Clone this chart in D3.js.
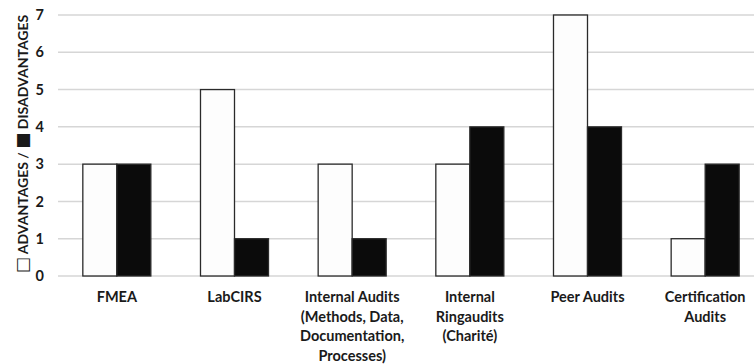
<!DOCTYPE html>
<html>
<head>
<meta charset="utf-8">
<script src="https://cdn.jsdelivr.net/npm/d3@7/dist/d3.min.js"></script>
<style>
  html, body { margin: 0; padding: 0; background: #ffffff; }
  svg { display: block; }
  text { font-family: Lato, "Open Sans", sans-serif; font-weight: 700; fill: #1a1a1a; }
</style>
</head>
<body>
<svg id="chart" width="754" height="364"></svg>
<script>
// Quality-assurance instruments and the number of advantages / disadvantages named for each
const categories = ["FMEA", "LabCIRS", "Internal Audits", "Internal Ringaudits", "Peer Audits", "Certification Audits"];
const categoryLines = [
  ["FMEA"],
  ["LabCIRS"],
  ["Internal Audits", "(Methods, Data,", "Documentation,", "Processes)"],
  ["Internal", "Ringaudits", "(Charité)"],
  ["Peer Audits"],
  ["Certification", "Audits"]
];
const advantages = [3, 5, 3, 3, 7, 1];
const disadvantages = [3, 1, 1, 4, 4, 3];
const seriesKeys = ["advantages", "disadvantages"];
const yTicks = [0, 1, 2, 3, 4, 5, 6, 7];

const rows = categories.map((c, i) => ({
  category: c,
  advantages: advantages[i],
  disadvantages: disadvantages[i]
}));

const svg = d3.select("#chart");
const plot = { left: 58, right: 764, top: 15, bottom: 276 };

const x = d3.scaleBand()
  .domain(categories)
  .range([plot.left, plot.right])
  .paddingInner(0.422)
  .paddingOuter(0.211);

const xs = d3.scaleBand()
  .domain(seriesKeys)
  .range([0, x.bandwidth()]);

const y = d3.scaleLinear()
  .domain([0, 7])
  .range([plot.bottom, plot.top]);

const fills = { advantages: "#fdfdfd", disadvantages: "#0b0b0b" };

// horizontal gridlines
svg.append("g")
  .selectAll("line")
  .data(yTicks)
  .join("line")
  .attr("x1", plot.left)
  .attr("x2", 754)
  .attr("y1", d => y(d))
  .attr("y2", d => y(d))
  .attr("stroke", "#d6d6d6")
  .attr("stroke-width", 1.5);

// y axis tick labels
const yAxis = d3.axisLeft(y).tickValues(yTicks).tickFormat(d3.format("d")).tickSize(0).tickPadding(0);
const yg = svg.append("g")
  .attr("transform", `translate(44,0)`)
  .call(yAxis);
yg.select(".domain").remove();
yg.selectAll("text")
  .attr("font-size", 14.5)
  .attr("font-family", "Lato, sans-serif")
  .attr("font-weight", 700)
  .attr("fill", "#1a1a1a");

// bars
const groups = svg.append("g")
  .selectAll("g")
  .data(rows)
  .join("g")
  .attr("transform", d => `translate(${x(d.category)},0)`);

groups.selectAll("rect")
  .data(d => seriesKeys.map(k => ({ key: k, value: d[k] })))
  .join("rect")
  .attr("x", d => xs(d.key))
  .attr("y", d => y(d.value))
  .attr("width", xs.bandwidth())
  .attr("height", d => y(0) - y(d.value))
  .attr("fill", d => fills[d.key])
  .attr("stroke", "#2a2a2a")
  .attr("stroke-width", 1.3);

// category labels (multi-line)
const xLabels = svg.append("g")
  .selectAll("text")
  .data(categories)
  .join("text")
  .attr("text-anchor", "middle")
  .attr("font-size", 14.5)
  .attr("transform", d => `translate(${x(d) + x.bandwidth() / 2},302)`);

xLabels.selectAll("tspan")
  .data((d, i) => categoryLines[i])
  .join("tspan")
  .attr("x", 0)
  .attr("y", (d, i) => i * 19.5)
  .text(d => d);

// y axis title with legend swatches as glyphs
const titleParts = [
  { t: "\u25A1", sym: true },
  { t: " ADVANTAGES / ", sym: false },
  { t: "\u25A0", sym: true },
  { t: " DISADVANTAGES", sym: false }
];
svg.append("text")
  .attr("transform", `translate(28,144) rotate(-90)`)
  .attr("text-anchor", "middle")
  .attr("font-size", 14)
  .selectAll("tspan")
  .data(titleParts)
  .join("tspan")
  .attr("font-family", d => d.sym ? "DejaVu Sans" : null)
  .attr("font-size", d => d.sym ? 17 : null)
  .attr("font-weight", d => d.sym ? 400 : null)
  .text(d => d.t);
</script>
</body>
</html>
